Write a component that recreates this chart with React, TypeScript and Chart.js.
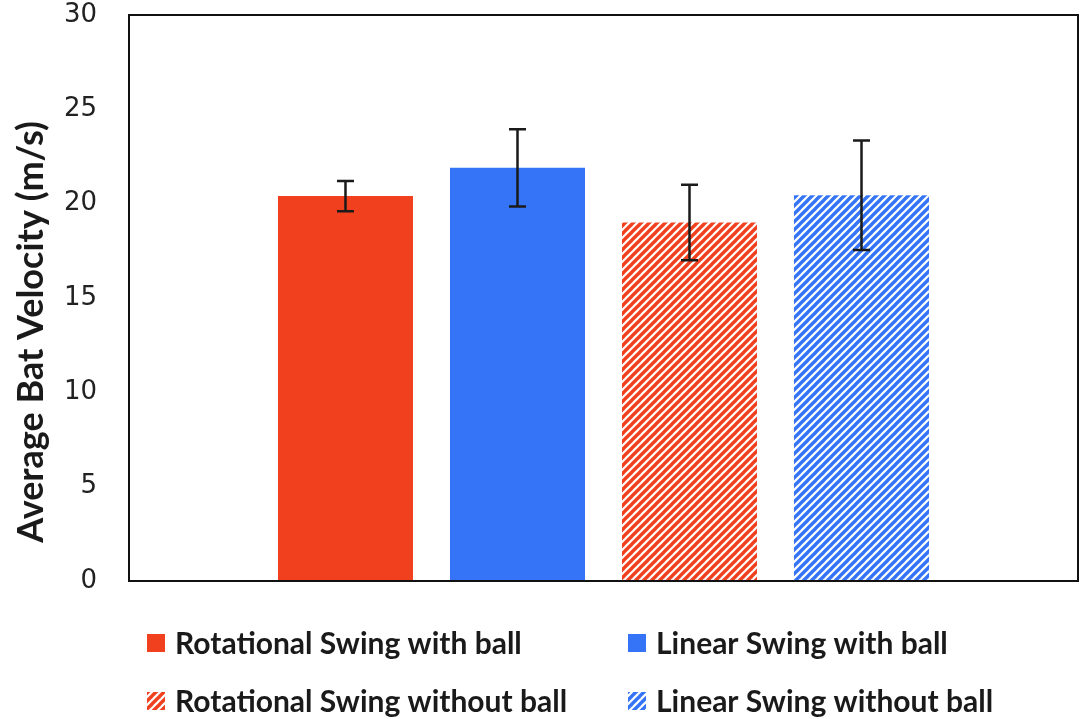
import React, { useEffect, useRef } from "react";
import { Chart, registerables } from "chart.js";

Chart.register(...registerables);

const seriesLabels = [
  "Rotational Swing with ball",
  "Linear Swing with ball",
  "Rotational Swing without ball",
  "Linear Swing without ball",
];
const meanVelocity = [20.4, 21.9, 19.0, 20.45];
const velocityError = [0.8, 2.05, 2.0, 2.9];
const hatched = [false, false, true, true];
const seriesColors = ["#F0401E", "#3574F6", "#F0401E", "#3574F6"];
const yTicks = [0, 5, 10, 15, 20, 25, 30];
const yTitle = "Average Bat Velocity (m/s)";

function stripePattern(color: string): CanvasPattern | string {
  const size = 8;
  const c = document.createElement("canvas");
  c.width = size;
  c.height = size;
  const g = c.getContext("2d");
  if (!g) return color;
  g.fillStyle = "#ffffff";
  g.fillRect(0, 0, size, size);
  g.strokeStyle = color;
  g.lineWidth = 3.4;
  g.lineCap = "square";
  const segs = [
    [-size, size, size, -size],
    [0, size, size, 0],
    [0, 2 * size, 2 * size, 0],
  ];
  for (const [x1, y1, x2, y2] of segs) {
    g.beginPath();
    g.moveTo(x1, y1);
    g.lineTo(x2, y2);
    g.stroke();
  }
  const p = g.createPattern(c, "repeat");
  return p || color;
}

const frameAndErrors = {
  id: "frameAndErrors",
  afterDatasetsDraw(chart: any) {
    const { ctx, chartArea } = chart;
    const y = chart.scales.y;
    ctx.save();
    // error bars
    ctx.strokeStyle = "#1a1a1a";
    ctx.lineWidth = 2.5;
    chart.data.datasets.forEach((ds: any, i: number) => {
      const meta = chart.getDatasetMeta(i);
      meta.data.forEach((bar: any, j: number) => {
        const v = ds.data[j];
        const e = ds.errors[j];
        const yTop = y.getPixelForValue(v + e);
        const yBot = y.getPixelForValue(v - e);
        const x = bar.x;
        const cap = 8.5;
        ctx.beginPath();
        ctx.moveTo(x, yTop);
        ctx.lineTo(x, yBot);
        ctx.moveTo(x - cap, yTop);
        ctx.lineTo(x + cap, yTop);
        ctx.moveTo(x - cap, yBot);
        ctx.lineTo(x + cap, yBot);
        ctx.stroke();
      });
    });
    // plot frame
    ctx.strokeStyle = "#111111";
    ctx.lineWidth = 2;
    ctx.strokeRect(
      chartArea.left,
      chartArea.top,
      chartArea.right - chartArea.left,
      chartArea.bottom - chartArea.top
    );
    ctx.restore();
  },
  afterDraw(chart: any) {
    const { ctx } = chart;
    ctx.save();
    // y-axis title, rotated
    ctx.translate(31, 332);
    ctx.rotate(-Math.PI / 2);
    ctx.font = "bold 36px Lato";
    ctx.fillStyle = "#1a1a1a";
    ctx.textAlign = "center";
    ctx.textBaseline = "middle";
    ctx.fillText(yTitle, 0, 0);
    ctx.restore();

    // legend in two columns
    const cols = [
      { box: 147, text: 175 },
      { box: 628, text: 656 },
    ];
    const rows = [643, 701];
    ctx.save();
    ctx.font = "bold 30px Lato";
    ctx.textBaseline = "middle";
    ctx.textAlign = "left";
    chart.data.datasets.forEach((ds: any, i: number) => {
      const col = cols[i % 2];
      const row = rows[Math.floor(i / 2)];
      ctx.fillStyle = ds.backgroundColor;
      ctx.fillRect(col.box, row - 9, 18, 18);
      ctx.fillStyle = "#1a1a1a";
      ctx.fillText(ds.label, col.text, row + 1);
    });
    ctx.restore();
  },
};

export default function App() {
  const ref = useRef<HTMLCanvasElement | null>(null);

  useEffect(() => {
    if (!ref.current) return;
    const datasets = seriesLabels.map((label, i) => ({
      label,
      data: [meanVelocity[i]],
      errors: [velocityError[i]],
      backgroundColor: hatched[i] ? stripePattern(seriesColors[i]) : seriesColors[i],
      borderWidth: 0,
      categoryPercentage: 0.725,
      barPercentage: 0.785,
    }));
    const chart = new Chart(ref.current, {
      type: "bar",
      data: { labels: [""], datasets: datasets as any },
      plugins: [frameAndErrors],
      options: {
        animation: false,
        responsive: false,
        devicePixelRatio: 1,
        layout: { padding: { top: 15, right: 5, bottom: 138, left: 0 } },
        plugins: {
          legend: { display: false },
          tooltip: { enabled: false },
        },
        scales: {
          x: {
            display: false,
          },
          y: {
            min: 0,
            max: 30,
            afterBuildTicks: (scale: any) => {
              scale.ticks = yTicks.map((v) => ({ value: v }));
            },
            afterFit: (scale: any) => {
              scale.width = 129;
              scale.paddingTop = 0;
              scale.paddingBottom = 0;
            },
            grid: { display: false },
            border: { display: false },
            ticks: {
              padding: 24,
              color: "#222222",
              font: { family: "DejaVu Sans", size: 26 },
            },
            title: { display: false },
          },
        },
      },
    });
    return () => chart.destroy();
  }, []);

  return (
    <div style={{ position: "fixed", left: 0, top: 0, width: 1083, height: 719, background: "#ffffff" }}>
      <canvas ref={ref} width={1083} height={719} style={{ display: "block" }} />
    </div>
  );
}
